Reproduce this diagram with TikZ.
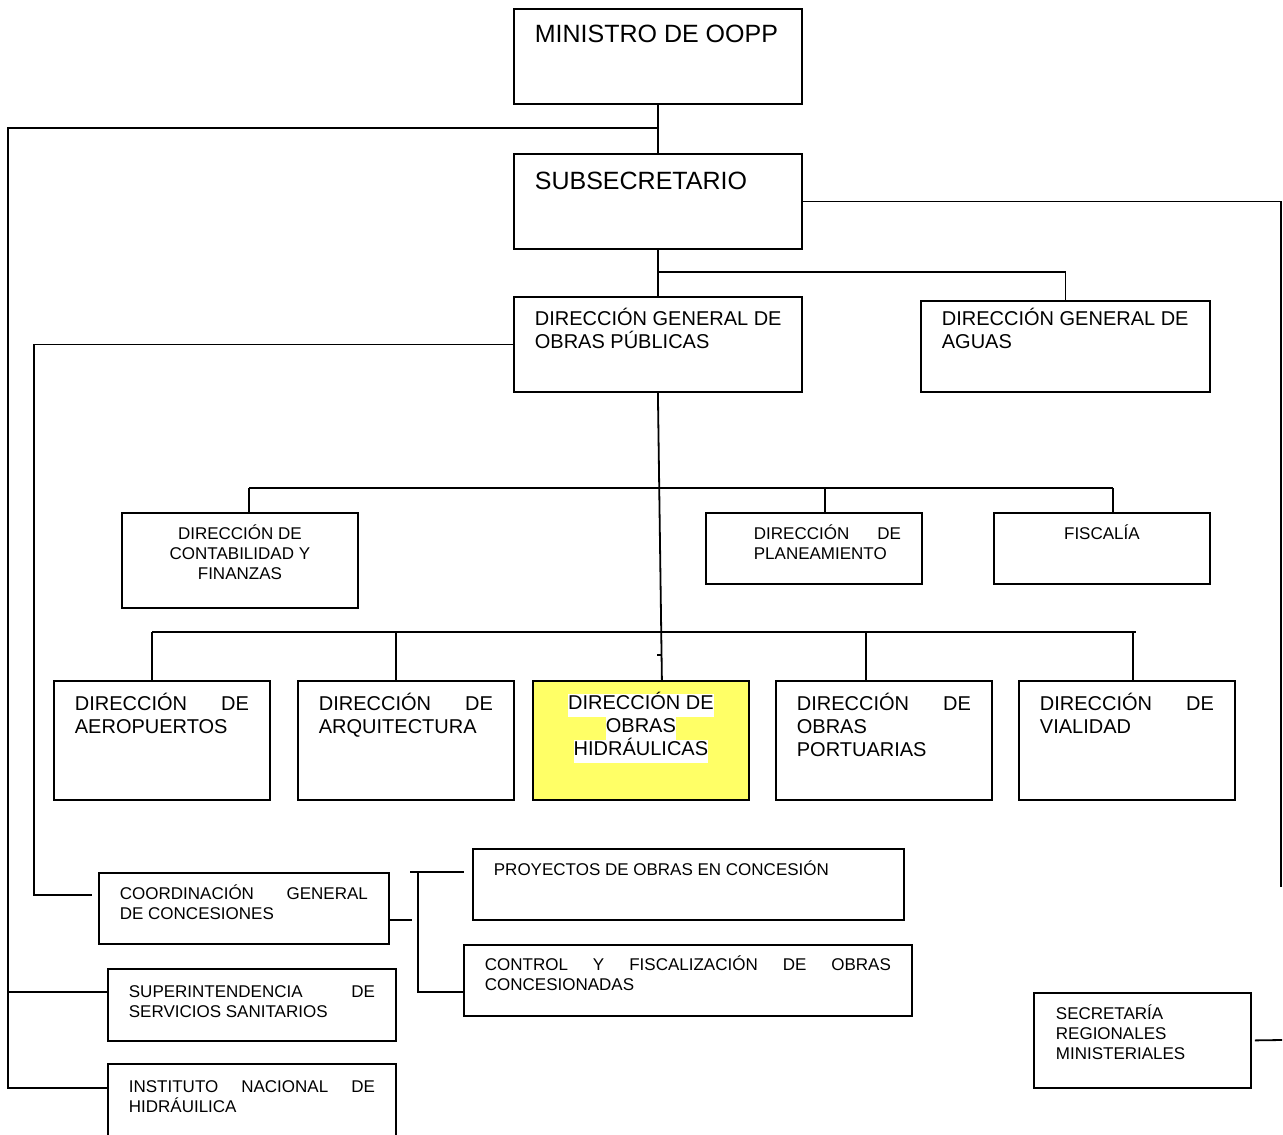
\documentclass[tikz,border=0pt]{standalone}
\usepackage{fontspec}
\setmainfont{Liberation Sans}
\usepackage{xcolor}
\definecolor{hlyellow}{RGB}{255,255,102}
\tolerance=10000 \hyphenpenalty=10000 \hbadness=10000
% paragraph set-ups used inside the boxes
\newcommand{\boxjust}[2]{\leftskip=#1\rightskip=#2\spaceskip=0pt\xspaceskip=0pt\parfillskip=0pt plus 1fil\relax}
\newcommand{\boxrag}[2]{\leftskip=#1\rightskip=#2 plus 1fil\spaceskip=0pt\xspaceskip=0pt\parfillskip=0pt plus 1fil\relax}
\newcommand{\boxmid}{\leftskip=0pt plus 1fil\rightskip=0pt plus 1fil\spaceskip=0pt\xspaceskip=0pt\parfillskip=0pt\relax}
% white highlight behind a line of text
\newcommand{\hlw}[1]{{\setlength{\fboxsep}{0pt}\colorbox{white}{\strut\smash{#1}}}}

\begin{document}
\begin{tikzpicture}[x=1pt, y=-1pt]
    % Define styles for boxes and lines
    \tikzstyle{unit} = [rectangle, draw, line width=1.8pt, anchor=north west, inner sep=0pt]
    \tikzstyle{bigtext} = [font=\fontsize{25}{30}\selectfont]
    \tikzstyle{midtext} = [font=\fontsize{20}{23}\selectfont]
    \tikzstyle{smalltext} = [font=\fontsize{17}{20}\selectfont]
    \tikzstyle{line} = [line width=1.8pt]

    \useasboundingbox (0,0) rectangle (1283,1135);

    % Top of the chart
    \node (mini) [unit, bigtext, text width=288pt, text height=34pt, text depth=61pt] at (513,8) {\boxrag{21pt}{10pt}MINISTRO DE OOPP\par};
    \node (subs) [unit, bigtext, text width=288pt, text height=36pt, text depth=59pt] at (513,153) {\boxrag{21pt}{10pt}SUBSECRETARIO\par};

    \node (dgop) [unit, midtext, text width=288pt, text height=29pt, text depth=66pt] at (513,296) {\boxrag{21pt}{10pt}DIRECCIÓN GENERAL DE\\OBRAS PÚBLICAS\par};
    \node (aguas) [unit, midtext, text width=289pt, text height=25pt, text depth=66pt] at (920,300) {\boxrag{21pt}{10pt}DIRECCIÓN GENERAL DE\\AGUAS\par};

    % Staff units
    \node (contab) [unit, smalltext, text width=236pt, text height=27pt, text depth=68pt] at (121,512) {\boxmid DIRECCIÓN DE\\CONTABILIDAD Y\\FINANZAS\par};
    \node (plan) [unit, smalltext, text width=216pt, text height=27pt, text depth=44pt] at (705,512) {\boxjust{48pt}{21pt}DIRECCIÓN DE\linebreak PLANEAMIENTO\par};
    \node (fisc) [unit, smalltext, text width=216pt, text height=27pt, text depth=44pt] at (993,512) {\boxmid FISCALÍA\par};

    % Operating directorates
    \node (aero) [unit, midtext, text width=216pt, text height=30pt, text depth=89pt] at (53,680) {\boxjust{21pt}{21pt}DIRECCIÓN DE\linebreak AEROPUERTOS\par};
    \node (arq) [unit, midtext, text width=216pt, text height=30pt, text depth=89pt] at (297,680) {\boxjust{21pt}{21pt}DIRECCIÓN DE\linebreak ARQUITECTURA\par};
    \node (hidr) [unit, midtext, fill=hlyellow, text width=216pt, text height=29pt, text depth=90pt] at (532,680) {\boxmid\hlw{DIRECCIÓN DE}\\\hlw{OBRAS}\\\hlw{HIDRÁULICAS}\par};
    \node (port) [unit, midtext, text width=216pt, text height=30pt, text depth=89pt] at (775,680) {\boxjust{21pt}{21pt}DIRECCIÓN DE\linebreak OBRAS\linebreak PORTUARIAS\par};
    \node (vial) [unit, midtext, text width=216pt, text height=30pt, text depth=89pt] at (1018,680) {\boxjust{21pt}{21pt}DIRECCIÓN DE\linebreak VIALIDAD\par};

    % Concessions and other services
    \node (proy) [unit, smalltext, text width=431pt, text height=27pt, text depth=44pt] at (472,848) {\boxrag{21pt}{10pt}PROYECTOS DE OBRAS EN CONCESIÓN\par};
    \node (coord) [unit, smalltext, text width=290pt, text height=27pt, text depth=44pt] at (98,872) {\boxjust{21pt}{21pt}COORDINACIÓN GENERAL\linebreak DE CONCESIONES\par};
    \node (ctrl) [unit, smalltext, text width=448pt, text height=26pt, text depth=45pt] at (463,944) {\boxjust{21pt}{21pt}CONTROL Y FISCALIZACIÓN DE OBRAS\linebreak CONCESIONADAS\par};
    \node (super) [unit, smalltext, text width=288pt, text height=29pt, text depth=43pt] at (107,968) {\boxjust{21pt}{21pt}SUPERINTENDENCIA DE\linebreak SERVICIOS SANITARIOS\par};
    \node (inst) [unit, smalltext, text width=288pt, text height=29pt, text depth=61pt] at (107,1063) {\boxjust{21pt}{21pt}INSTITUTO NACIONAL DE\linebreak HIDRÁUILICA\par};
    \node (secr) [unit, smalltext, text width=217pt, text height=27pt, text depth=68pt] at (1033,992) {\boxrag{22pt}{10pt}SECRETARÍA\\REGIONALES\\MINISTERIALES\par};

    % Junction points
    \coordinate (ltop) at (8,128);
    \coordinate (jsub) at (657,272);
    \coordinate (cj) at (34,895);
    \coordinate (rend) at (1281,887);
    \coordinate (rstub) at (1282,1040);
    \coordinate (h1) at (249,488);
    \coordinate (h1m) at (825,488);
    \coordinate (h1e) at (1113,488);
    \coordinate (b1) at (152,632);
    \coordinate (b2) at (396,632);
    \coordinate (b4) at (866,632);
    \coordinate (b5) at (1133,632);
    \coordinate (b6) at (1136,632);
    \coordinate (kt) at (410,872);
    \coordinate (kv) at (418,872);
    \coordinate (kc) at (412,920);

    % Lines
    \draw [line] (mini.south) -- (subs.north);
    \draw [line] (mini.south |- ltop) -- (ltop) |- ([yshift=-25pt]inst.north west);
    \draw [line] ([yshift=-24pt]super.north west) -| (ltop);
    \draw [line] (subs.east) -| (rend);
    \draw [line] ([xshift=3pt]secr.east) -- (rstub);
    \draw [line] (subs.south) -- (dgop.north);
    \draw [line] (jsub) -| (aguas.north);
    \draw [line, shorten >=6pt] (dgop.west) -| (cj) -- (cj -| coord.west);
    \draw [line] (dgop.south) -- ([xshift=21pt]hidr.north);
    \draw [line] (657,655) -- (661,655);

    \draw [line] (h1) -- (h1e);
    \draw [line] (h1) -- (h1 |- contab.north);
    \draw [line] (h1m) -- (h1m |- plan.north);
    \draw [line] (h1e) -- (h1e |- fisc.north);

    \draw [line] (b1) -- (b6);
    \draw [line] (b1) -- (b1 |- aero.north);
    \draw [line] (b2) -- (b2 |- arq.north);
    \draw [line] (b4) -- (b4 |- port.north);
    \draw [line] (b5) -- (b5 |- vial.north);

    \draw [line, shorten >=8pt] (kt) -- (kt -| proy.west);
    \draw [line] (kv) |- ([yshift=-48pt]ctrl.north west);
    \draw [line] (kc -| coord.east) -- (kc);

\end{tikzpicture}
\end{document}
